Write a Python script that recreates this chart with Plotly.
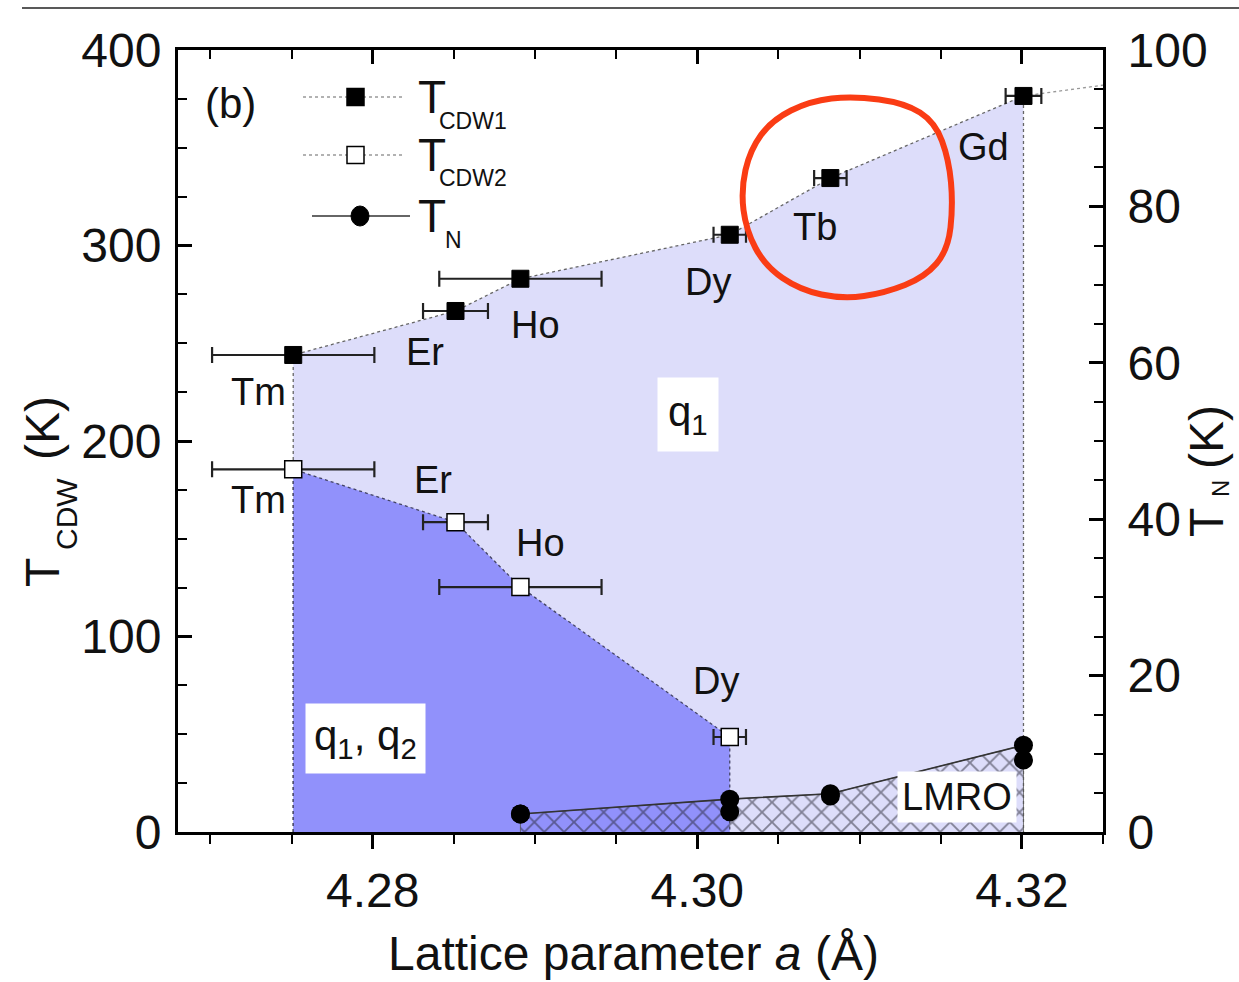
import plotly.graph_objects as go

# ---------------- data ----------------
elements_cdw1 = ["Tm", "Er", "Ho", "Dy", "Tb", "Gd"]
a_cdw1 = [4.2751, 4.2851, 4.2891, 4.3020, 4.3082, 4.3201]
t_cdw1 = [244.0, 266.5, 283.0, 305.5, 334.5, 376.5]
a_err_cdw1 = [0.0050, 0.0020, 0.0050, 0.0010, 0.0010, 0.0011]

elements_cdw2 = ["Tm", "Er", "Ho", "Dy"]
a_cdw2 = [4.2751, 4.2851, 4.2891, 4.3020]
t_cdw2 = [185.5, 158.5, 125.3, 48.6]
a_err_cdw2 = [0.0050, 0.0020, 0.0050, 0.0010]

elements_tn = ["Ho", "Dy", "Tb", "Gd"]
a_tn = [4.2891, 4.3020, 4.3082, 4.3201]
tn_upper = [2.3, 4.2, 4.9, 11.1]
tn_lower = [2.3, 2.6, 4.6, 9.2]

cdw1_ext_a = [4.3201, 4.3250]
cdw1_ext_t = [376.5, 382.0]

x_ticks = [4.28, 4.30, 4.32]
y_ticks = [0, 100, 200, 300, 400]
y2_ticks = [0, 20, 40, 60, 80, 100]

X_RANGE = [4.268, 4.325]
Y_RANGE = [0, 400]
Y2_RANGE = [0, 100]

# ---------------- layout helpers (pixel -> axis units) ----------------
L, R, T, B = 178, 1103, 50, 832
W, H = 1239, 982


def X(px):
    return X_RANGE[0] + (px - L) / (R - L) * (X_RANGE[1] - X_RANGE[0])


def Y(py):
    return (B - py) / (B - T) * (Y_RANGE[1] - Y_RANGE[0])


LIGHT = "#DDDDFA"
DARK = "#9191FB"
FONT = "Liberation Sans"

fig = go.Figure()

# q1 region (light)
fig.add_trace(go.Scatter(
    x=[a_cdw1[0]] + a_cdw1 + [a_cdw1[-1]],
    y=[0] + t_cdw1 + [0],
    fill="toself", fillcolor=LIGHT, mode="lines",
    line=dict(color="#666666", width=1.3, dash="dot"),
    hoverinfo="skip", showlegend=False))

# q1,q2 region (dark)
fig.add_trace(go.Scatter(
    x=[a_cdw2[0]] + a_cdw2 + [a_cdw2[-1]],
    y=[0] + t_cdw2 + [0],
    fill="toself", fillcolor=DARK, mode="lines",
    line=dict(color="#444466", width=1.3, dash="dot"),
    hoverinfo="skip", showlegend=False))

# CDW1 extension beyond Gd
fig.add_trace(go.Scatter(
    x=cdw1_ext_a, y=cdw1_ext_t, mode="lines",
    line=dict(color="#999999", width=1.3, dash="dot"),
    hoverinfo="skip", showlegend=False, cliponaxis=True))

# T_CDW2 points
fig.add_trace(go.Scatter(
    x=a_cdw2, y=t_cdw2, mode="markers",
    error_x=dict(type="data", array=a_err_cdw2, symmetric=True,
                 color="#222222", thickness=2.2, width=8),
    marker=dict(symbol="square", size=17, color="white",
                line=dict(color="black", width=1.5)),
    showlegend=False, cliponaxis=False))

# T_CDW1 points
fig.add_trace(go.Scatter(
    x=a_cdw1, y=t_cdw1, mode="markers",
    error_x=dict(type="data", array=a_err_cdw1, symmetric=True,
                 color="#222222", thickness=2.2, width=8),
    marker=dict(symbol="square", size=17, color="black",
                line=dict(color="black", width=1)),
    showlegend=False, cliponaxis=False))

# T_N hatched LMRO region (right axis)
fig.add_trace(go.Scatter(
    x=[a_tn[0]] + a_tn + [a_tn[-1]],
    y=[0] + tn_upper + [0],
    yaxis="y2", fill="toself", fillcolor="rgba(0,0,0,0)",
    fillpattern=dict(shape="x", fgcolor="#22222e", bgcolor="rgba(0,0,0,0)",
                     size=14, solidity=0.25),
    mode="lines", line=dict(color="#555555", width=0.8),
    hoverinfo="skip", showlegend=False))

fig.add_trace(go.Scatter(
    x=a_tn, y=tn_upper, yaxis="y2", mode="lines+markers",
    line=dict(color="#333333", width=1.6),
    marker=dict(symbol="circle", size=19, color="black"),
    showlegend=False, cliponaxis=False))

fig.add_trace(go.Scatter(
    x=a_tn, y=tn_lower, yaxis="y2", mode="markers",
    marker=dict(symbol="circle", size=19, color="black"),
    showlegend=False, cliponaxis=False))

# dummy trace for the top axis
fig.add_trace(go.Scatter(x=[X_RANGE[0]], y=[0], xaxis="x2", mode="markers",
                         marker=dict(opacity=0), hoverinfo="skip",
                         showlegend=False))

annotations = []


def label(text, px, py, size=38, **kw):
    annotations.append(dict(text=text, x=X(px), y=Y(py), xref="x", yref="y",
                            showarrow=False,
                            font=dict(family=FONT, size=size, color="#111111"),
                            **kw))


# element labels
label("Tm", 258, 392)
label("Er", 425, 352)
label("Ho", 535, 325)
label("Dy", 708, 282)
label("Tb", 815, 227)
label("Gd", 983, 147)
label("Tm", 258, 500)
label("Er", 433, 480)
label("Ho", 540, 543)
label("Dy", 716, 681)
label("(b)", 230, 103, size=42)

# phase labels with white boxes
label("q<sub>1</sub>", 688, 414, size=42, bgcolor="white", borderpad=10)
label("q<sub>1</sub>, q<sub>2</sub>", 365, 738, size=42, bgcolor="white",
      borderpad=8)
label("LMRO", 957, 797, size=38, bgcolor="white", borderpad=4)

# legend texts
label("T", 432, 97, size=46)
label("CDW1", 473, 121, size=23)
label("T", 432, 155, size=46)
label("CDW2", 473, 178, size=23)
label("T", 432, 216, size=46)
label("N", 453, 240, size=23)


# axis titles as paper annotations (paper = plot-area fraction)
def ptxt(text, px, py, size, angle=0):
    annotations.append(dict(text=text, x=(px - L) / (R - L),
                            y=(B - py) / (B - T), xref="paper",
                            yref="paper", showarrow=False, textangle=angle,
                            font=dict(family=FONT, size=size, color="#111111"),
                            xanchor="center", yanchor="middle"))


shapes = []

# legend glyphs
for ly, filled in [(97, True), (155, False)]:
    shapes.append(dict(type="line", xref="x", yref="y", x0=X(303), x1=X(405),
                       y0=Y(ly), y1=Y(ly),
                       line=dict(color="#999999", width=1.3, dash="dot"),
                       layer="above"))
    shapes.append(dict(type="rect", xref="x", yref="y", x0=X(347), x1=X(364),
                       y0=Y(ly - 8.5), y1=Y(ly + 8.5),
                       fillcolor="black" if filled else "white",
                       line=dict(color="black", width=1.5), layer="above"))
shapes.append(dict(type="line", xref="x", yref="y", x0=X(312), x1=X(410),
                   y0=Y(216), y1=Y(216), line=dict(color="#333333", width=1.6),
                   layer="above"))
shapes.append(dict(type="circle", xref="x", yref="y", x0=X(351), x1=X(369),
                   y0=Y(206), y1=Y(226), fillcolor="black",
                   line=dict(color="black", width=1), layer="above"))

# hand-drawn red circle around Tb
pts = [(853, 96), (905, 103), (935, 122), (949, 160), (953, 205), (948, 250),
       (925, 277), (885, 293), (843, 299), (800, 290), (765, 266), (746, 230),
       (741, 190), (750, 150), (772, 120), (810, 101)]
n = len(pts)


def mid(p, q):
    return ((p[0] + q[0]) / 2, (p[1] + q[1]) / 2)


m0 = mid(pts[-1], pts[0])
path = f"M {X(m0[0])},{Y(m0[1])}"
for i in range(n):
    p = pts[i]
    m = mid(pts[i], pts[(i + 1) % n])
    path += f" Q {X(p[0])},{Y(p[1])} {X(m[0])},{Y(m[1])}"
path += " Z"
shapes.append(dict(type="path", path=path, xref="x", yref="y",
                   line=dict(color="#FA3C14", width=6), layer="above"))

# thin rule at the very top of the page
shapes.append(dict(type="line", xref="paper", yref="paper",
                   x0=(22 - L) / (R - L), x1=(W - L) / (R - L),
                   y0=(B - 8) / (B - T), y1=(B - 8) / (B - T),
                   line=dict(color="#222222", width=1.5)))

ptxt("Lattice parameter <i>a</i> (Å)", 633, 953, 48)
ptxt("T", 42, 573, 48, -90)
ptxt("CDW", 66, 514, 30, -90)
ptxt("(K)", 42, 428, 48, -90)
ptxt("T", 1206, 523, 48, -90)
ptxt("N", 1221, 489, 24, -90)
ptxt("(K)", 1206, 437, 48, -90)

tickfont = dict(family=FONT, size=48, color="#111111")

fig.update_layout(
    width=W, height=H,
    margin=dict(l=L, r=W - R, t=T, b=H - B, pad=0),
    paper_bgcolor="white", plot_bgcolor="white",
    showlegend=False,
    xaxis=dict(range=X_RANGE, tickvals=x_ticks,
               ticktext=[f"{v:.2f}" for v in x_ticks],
               ticks="outside", ticklen=14, tickwidth=2.5, tickcolor="black",
               minor=dict(ticks="outside", ticklen=9, tickwidth=2,
                          dtick=0.005, tick0=4.27, tickcolor="black"),
               showline=True, linewidth=3, linecolor="black",
               showgrid=False, zeroline=False, tickfont=tickfont,
               ticklabelstandoff=0),
    xaxis2=dict(range=X_RANGE, overlaying="x", side="top", anchor="y",
                tickvals=x_ticks, ticks="inside", ticklen=14, tickwidth=2.5,
                tickcolor="black", showticklabels=False,
                minor=dict(ticks="inside", ticklen=9, tickwidth=2,
                           dtick=0.005, tick0=4.27, tickcolor="black"),
                showline=True, linewidth=3, linecolor="black",
                showgrid=False, zeroline=False),
    yaxis=dict(range=Y_RANGE, tickvals=y_ticks, ticks="inside", ticklen=14,
               tickwidth=2.5, tickcolor="black",
               minor=dict(ticks="inside", ticklen=9, tickwidth=2, dtick=25,
                          tickcolor="black"),
               showline=True, linewidth=3, linecolor="black",
               showgrid=False, zeroline=False, tickfont=tickfont,
               ticklabelstandoff=4),
    yaxis2=dict(range=Y2_RANGE, overlaying="y", side="right", anchor="x",
                tickvals=y2_ticks, ticks="inside", ticklen=14, tickwidth=2.5,
                tickcolor="black",
                minor=dict(ticks="inside", ticklen=9, tickwidth=2, dtick=5,
                           tickcolor="black"),
                showline=True, linewidth=3, linecolor="black",
                showgrid=False, zeroline=False, tickfont=tickfont,
                ticklabelstandoff=12),
    annotations=annotations,
    shapes=shapes,
)

fig.write_html("out.html")
